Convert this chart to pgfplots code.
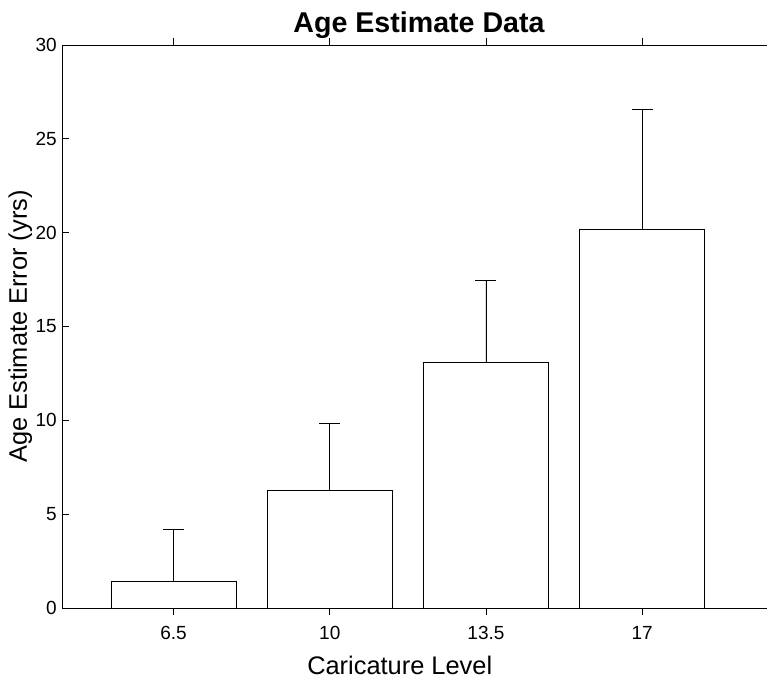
\documentclass[border=0pt]{standalone}
\usepackage{fontspec}
\setmainfont{Liberation Sans}
\usepackage{pgfplots}
\pgfplotsset{compat=1.18}
\begin{document}
\begin{tikzpicture}
\useasboundingbox (-62bp,-71bp) rectangle (705bp,608bp);
\begin{axis}[
  at={(0,0)}, anchor=south west,
  scale only axis, width=714bp, height=563bp,
  xmin=4, xmax=20, ymin=0, ymax=30,
  axis on top,
  xtick={6.5,10,13.5,17}, xticklabels={6.5,10,13.5,17},
  ytick={0,5,10,15,20,25,30},
  tick align=inside, major tick length=7bp,
  xtick pos=both, ytick pos=left,
  tick style={black, line width=0.8bp},
  axis line style={black, line width=0.8bp},
  ybar, bar width=2.8,
  /pgf/number format/assume math mode=true,
  ticklabel style={font=\fontsize{19bp}{21bp}\selectfont},
  xticklabel style={anchor=base, yshift=-24bp, inner sep=0pt},
  yticklabel style={anchor=east, inner sep=0pt, xshift=-5bp},
  title={Age Estimate Data},
  title style={font=\fontsize{28.6bp}{30bp}\selectfont\bfseries, at={(axis description cs:0.5,1)}, anchor=base, yshift=7bp},
  xlabel={Caricature Level},
  xlabel style={font=\fontsize{25.4bp}{27bp}\selectfont, at={(axis description cs:0.473,0)}, anchor=base, yshift=-66bp},
  ylabel={Age Estimate Error (yrs)},
  ylabel style={font=\fontsize{25.4bp}{27bp}\selectfont, at={(axis description cs:0,0.5)}, anchor=base, yshift=35bp},
]
\addplot[fill=white, draw=black, line width=0.8bp,
  error bars/.cd, y dir=plus, y explicit,
  error bar style={black, line width=0.8bp},
  error mark options={black, line width=0.8bp, mark size=10.5bp, rotate=90}]
  coordinates {
    (6.5,1.42) +- (0,2.75)
    (10,6.29) +- (0,3.55)
    (13.5,13.09) +- (0,4.39)
    (17,20.19) +- (0,6.38)
  };
\end{axis}
\end{tikzpicture}
\end{document}
